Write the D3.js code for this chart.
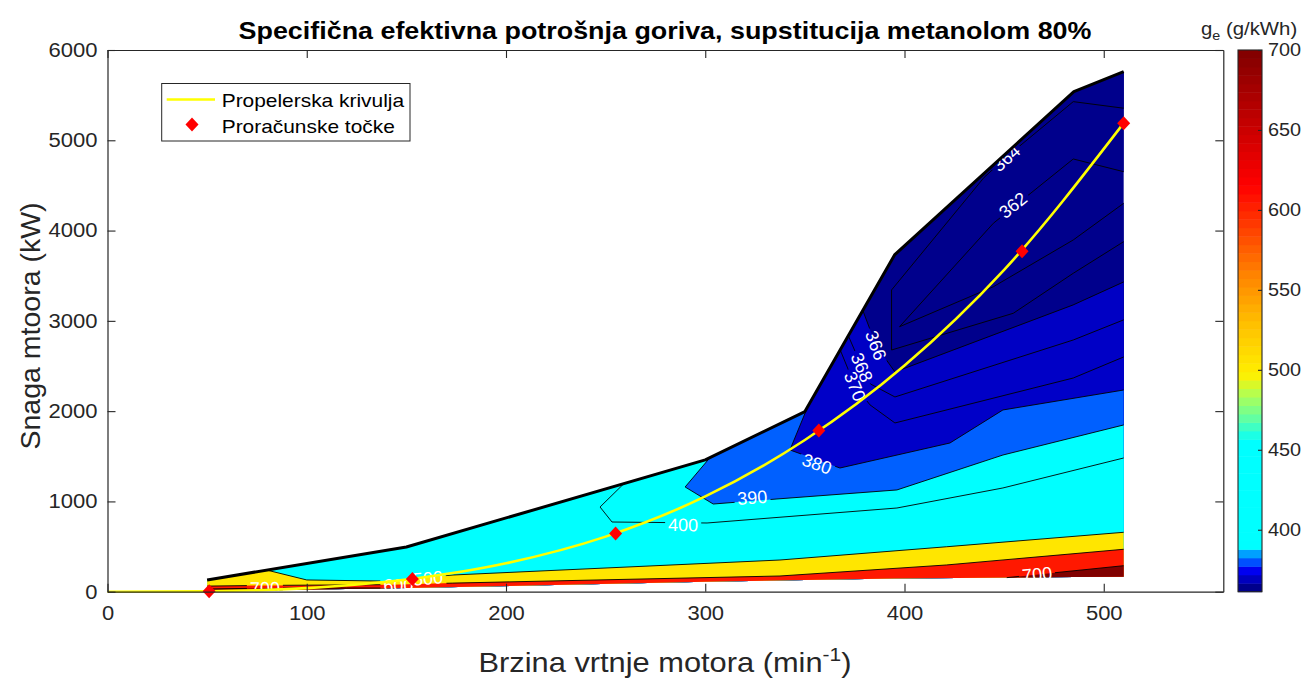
<!DOCTYPE html>
<html><head><meta charset="utf-8">
<script src="https://cdn.jsdelivr.net/npm/d3@7"></script>
<style>
body{margin:0;background:#fff}
text{font-family:"Liberation Sans",Arial,Helvetica,sans-serif}
</style>
</head><body>
<svg id="chart" width="1307" height="679"></svg>
<script>
// ---------------- data ----------------
const xTicks = [0,100,200,300,400,500];
const yTicks = [0,1000,2000,3000,4000,5000,6000];
const cbTicks = [400,450,500,550,600,650,700];

// engine envelope (speed min^-1, power kW)
const envN      = [50,150,300,350,395,485,510];
const envTop    = [130,495,1460,1995,3730,5540,5760];
const envBottom = [5,40,110,130,145,162,166];

// contour levels (g/kWh) and band fill colours (band below first level, then above each level)
const levels = [362,364,366,368,370,380,390,400,500,600,700];
const bandColors = ["#00008c","#00008c","#00008c","#0000c4","#0000c6","#0000c8",
                    "#0060ff","#00ffff","#00ffff","#ffe600","#ff1800","#800000"];

// contour lines [speed, power]; higher values lie to the right of travel direction
const line362 = [[509.8,4652],[484.7,4793],[444.6,4081],[397.5,2935],[444.6,3378],[484.7,3896],[509.8,4302]];
const line364 = [[509.8,5355],[484.7,5428],[452,4830],[440,4590],[393.5,3342],[393.5,2677],[454.6,3084],[484.7,3527],[509.8,3877]];
const line366 = [[379.6,3109],[385.7,2729],[395.2,2434],[484.6,3176],[509.8,3431]];
const line368 = [[371.2,2843],[378.7,2485],[383,2300],[395.2,2157],[484.7,2788],[509.8,3011]];
const line370 = [[367.6,2680],[375.2,2275],[382.7,2069],[395.2,1869],[484.7,2367],[509.8,2600]];
const line380 = [[351.5,2053],[342.5,1570],[367.6,1370],[422.8,1647],[449.4,2013],[509.8,2234]];
const line390 = [[302.4,1486],[289.9,1160],[304,971],[336,1027],[396.2,1127],[449.4,1514],[509.8,1847]];
const line400 = [[259.2,1197],[247.2,938],[253.2,772],[300.9,761],[396.2,927],[449.4,1149],[509.8,1481]];
const line500 = [[80,232],[100,130],[138.3,118],[173.4,185],[337.5,351],[421.2,498],[509.8,658]];
const line600 = [[50,62],[80,70],[142,78],[173,95],[337.5,174],[421,296],[509.8,470]];
const line700a = [[50,30],[80,40],[120,42],[150,44]];
const line700b = [[451.3,160],[509.8,288]];
const contourLines = [
  {level:362, pts:line362},{level:364, pts:line364},{level:366, pts:line366},
  {level:368, pts:line368},{level:370, pts:line370},{level:380, pts:line380},
  {level:390, pts:line390},{level:400, pts:line400},{level:500, pts:line500},
  {level:600, pts:line600},{level:700, pts:line700a},{level:700, pts:line700b}];

// inline contour labels
const labelLevels = [364,362,366,368,370,380,390,400,500,600,700,700];
const labelN      = [451,454.4,385.7,378.7,375.2,356.1,323.6,288.9,160.8,146,79,466.5];
const labelP      = [4804,4283,2729,2485,2275,1418,1045,743,151,74,41,196];

// propeller curve and calculation points
const propN = [0,50,100,150,200,250,300,350,400,450,510];
const propP = [0,5,40,135,315,610,1055,1680,2505,3565,5190];
const calcN = [51,153,255,357,459,510];
const calcP = [5,140,645,1785,3770,5190];

// colour bar colour stops (value, colour)
const cbStopV = [363.9,369.2,374.5,379.8,385.1,390.4,455,470,485,497,530,560,590,615,700];
const cbStopC = ["#00008c","#0000be","#0000f0","#0050ff","#00a0ff","#00ffff","#00ffff",
                 "#64ffa0","#b4ff50","#fff000","#ffbe00","#ff8200","#ff3c00","#ff0000","#800000"];

// ---------------- drawing ----------------
const svg = d3.select("#chart");
const W = 1307, H = 679;
const x = d3.scaleLinear().domain([0,560]).range([107.5,1223.3]);
const y = d3.scaleLinear().domain([0,6000]).range([591.7,50]);
const toPx = d => [x(d[0]), y(d[1])];
const axisCol = "#262626";
const SX = 1.1; // horizontal text stretch seen in the reference
function stretch(sel,k){
  sel.each(function(){
    const w=this.getComputedTextLength();
    d3.select(this).attr("textLength",(w*k).toFixed(1)).attr("lengthAdjust","spacingAndGlyphs");
  });
}

svg.append("rect").attr("width",W).attr("height",H).attr("fill","#fff");

// envelope polygon (clockwise on screen)
const topPts = envN.map((n,i)=>toPx([n,envTop[i]]));
const botPts = envN.map((n,i)=>toPx([n,envBottom[i]])).reverse();
const B = topPts.concat(botPts);
const NB = B.length;

function project(p){
  let best=null;
  for(let i=0;i<NB;i++){
    const a=B[i], b=B[(i+1)%NB];
    const dx=b[0]-a[0], dy=b[1]-a[1];
    const L2=dx*dx+dy*dy;
    let t=L2?((p[0]-a[0])*dx+(p[1]-a[1])*dy)/L2:0;
    t=Math.max(0,Math.min(1,t));
    const q=[a[0]+t*dx,a[1]+t*dy];
    const d=(q[0]-p[0])**2+(q[1]-p[1])**2;
    if(!best||d<best.d) best={i,t,p:q,d};
  }
  return best;
}
function cwPath(a,b){
  const pts=[];
  if(a.i===b.i && b.t>=a.t){pts.push(b.p);return pts;}
  let k=(a.i+1)%NB; pts.push(B[k]);
  while(k!==b.i){k=(k+1)%NB; pts.push(B[k]);}
  pts.push(b.p);
  return pts;
}
const pathOf = (pts,close)=>"M"+pts.map(p=>p[0].toFixed(2)+","+p[1].toFixed(2)).join("L")+(close?"Z":"");

const gFill = svg.append("g");
gFill.append("path").attr("d",pathOf(B,true)).attr("fill",bandColors[0]);

const linePx = contourLines.map(c=>{
  const px=c.pts.map(toPx);
  const s=project(px[0]), e=project(px[px.length-1]);
  px[0]=s.p; px[px.length-1]=e.p;
  return {level:c.level, px, poly:px.concat(cwPath(e,s))};
});
levels.forEach((L,li)=>{
  linePx.filter(c=>c.level===L).forEach(c=>{
    gFill.append("path").attr("d",pathOf(c.poly,true)).attr("fill",bandColors[li+1]);
  });
});

// contour lines with gaps under labels
const defs = svg.append("defs");
const mask = defs.append("mask").attr("id","gapMask").attr("maskUnits","userSpaceOnUse")
  .attr("x",0).attr("y",0).attr("width",W).attr("height",H);
mask.append("rect").attr("width",W).attr("height",H).attr("fill","#fff");

const gLines = svg.append("g").attr("mask","url(#gapMask)");
linePx.forEach(c=>{
  gLines.append("path").attr("d",pathOf(c.px,false)).attr("fill","none")
    .attr("stroke","#000").attr("stroke-width",0.9);
});

const gLab = svg.append("g");
labelLevels.forEach((L,i)=>{
  const p = toPx([labelN[i],labelP[i]]);
  let best=null;
  linePx.filter(c=>c.level===L).forEach(c=>{
    for(let k=0;k<c.px.length-1;k++){
      const a=c.px[k], b=c.px[k+1];
      const dx=b[0]-a[0], dy=b[1]-a[1], L2=dx*dx+dy*dy;
      let t=L2?((p[0]-a[0])*dx+(p[1]-a[1])*dy)/L2:0; t=Math.max(0,Math.min(1,t));
      const d=(a[0]+t*dx-p[0])**2+(a[1]+t*dy-p[1])**2;
      if(!best||d<best.d) best={d,ang:Math.atan2(dy,dx)*180/Math.PI};
    }
  });
  let ang = best?best.ang:0;
  if(ang>90) ang-=180; if(ang<=-90) ang+=180;
  const t = gLab.append("text").attr("transform",`translate(${p[0]},${p[1]}) rotate(${ang})`)
    .attr("text-anchor","middle").attr("dy","0.36em").attr("fill","#fff")
    .attr("font-size",18).text(L);
  const w = t.node().getComputedTextLength();
  mask.append("rect").attr("x",-w/2-3).attr("y",-8).attr("width",w+6).attr("height",16)
    .attr("transform",`translate(${p[0]},${p[1]}) rotate(${ang})`).attr("fill","#000");
});

// envelope top boundary
svg.append("path").attr("d",pathOf(topPts,false)).attr("fill","none")
  .attr("stroke","#000").attr("stroke-width",3).attr("stroke-linejoin","round");

// propeller curve
const propLine = d3.line().x(d=>x(d[0])).y(d=>y(d[1])).curve(d3.curveMonotoneX);
svg.append("path").attr("d",propLine(propN.map((n,i)=>[n,propP[i]]))).attr("fill","none")
  .attr("stroke","#ffff00").attr("stroke-width",2.6);
const diamond = "M0,-7L6.5,0L0,7L-6.5,0Z";
calcN.forEach((n,i)=>{
  svg.append("path").attr("d",diamond).attr("transform",`translate(${x(n)},${y(calcP[i])})`)
    .attr("fill","#ff0000");
});

// axes
function styleAxis(fs){
  return g=>{
    g.selectAll(".domain").attr("stroke",axisCol).attr("stroke-width",1.2);
    g.selectAll(".tick line").attr("stroke",axisCol).attr("stroke-width",1.1);
    g.selectAll("text").attr("fill",axisCol).attr("font-size",fs)
      .attr("font-family",'"Liberation Sans",Arial,sans-serif');
    stretch(g.selectAll("text"),SX);
  };
}
const fmt = d3.format("d");
svg.append("g").attr("transform",`translate(0,${y(0)})`)
  .call(d3.axisBottom(x).tickValues(xTicks).tickFormat(fmt).tickSizeInner(-8).tickSizeOuter(0).tickPadding(14))
  .call(styleAxis(20));
svg.append("g").attr("transform",`translate(0,${y(6000)})`)
  .call(d3.axisTop(x).tickValues(xTicks).tickSizeInner(-8).tickSizeOuter(0).tickFormat(""))
  .call(styleAxis(20));
svg.append("g").attr("transform",`translate(${x(0)},0)`)
  .call(d3.axisLeft(y).tickValues(yTicks).tickFormat(fmt).tickSizeInner(-8).tickSizeOuter(0).tickPadding(10))
  .call(styleAxis(20));
svg.append("g").attr("transform",`translate(${x(560)},0)`)
  .call(d3.axisRight(y).tickValues(yTicks).tickSizeInner(-8).tickSizeOuter(0).tickFormat(""))
  .call(styleAxis(20));

// titles
const title = svg.append("text").attr("x",665).attr("y",39).attr("text-anchor","middle")
  .attr("font-size",24).attr("font-weight","bold").attr("fill","#000")
  .text("Specifična efektivna potrošnja goriva, supstitucija metanolom 80%");
stretch(title,1.12);
const xl = svg.append("text").attr("x",665).attr("y",672).attr("text-anchor","middle")
  .attr("font-size",28).attr("fill",axisCol);
xl.append("tspan").text("Brzina vrtnje motora (min");
xl.append("tspan").attr("dy",-11).attr("font-size",19).text("-1");
xl.append("tspan").attr("dy",11).text(")");
stretch(xl,SX);
svg.append("text").attr("transform",`translate(40,326) rotate(-90)`)
  .attr("text-anchor","middle").attr("font-size",28.5).attr("fill",axisCol)
  .text("Snaga mtoora (kW)");

// legend
const lg = svg.append("g");
lg.append("rect").attr("x",161.7).attr("y",83.5).attr("width",248.3).attr("height",57.5)
  .attr("fill","#fff").attr("stroke",axisCol).attr("stroke-width",1);
lg.append("line").attr("x1",166.7).attr("x2",215).attr("y1",99.5).attr("y2",99.5)
  .attr("stroke","#ffff00").attr("stroke-width",2.6);
lg.append("path").attr("d",diamond).attr("transform","translate(192,124.5)").attr("fill","#ff0000");
const lt1 = lg.append("text").attr("x",221.7).attr("y",106.5).attr("font-size",19).attr("fill","#000").text("Propelerska krivulja");
const lt2 = lg.append("text").attr("x",221.7).attr("y",132.5).attr("font-size",19).attr("fill","#000").text("Proračunske točke");
stretch(lt1,SX); stretch(lt2,SX);

// colour bar
const cbX = 1238, cbW = 24;
const cScale = d3.scaleLinear().domain(cbStopV).range(cbStopC).clamp(true);
const cy = d3.scaleLinear().domain([361.25,700]).range([591.7,50]);
const nBlk = 64, step = (700-361.25)/nBlk;
const blocks = d3.range(nBlk).map(i=>361.25+i*step);
svg.append("g").selectAll("rect").data(blocks).join("rect")
  .attr("x",cbX).attr("width",cbW)
  .attr("y",v=>cy(v+step)).attr("height",v=>cy(v)-cy(v+step)+0.5)
  .attr("fill",v=>cScale(v+step/2));
svg.append("rect").attr("x",cbX).attr("y",50).attr("width",cbW).attr("height",541.7)
  .attr("fill","none").attr("stroke",axisCol).attr("stroke-width",1.1);
const cbAx = svg.append("g").attr("transform",`translate(${cbX+cbW},0)`)
  .call(d3.axisRight(cy).tickValues(cbTicks).tickSizeInner(-4).tickSizeOuter(0).tickPadding(6))
  .call(styleAxis(18));
cbAx.select(".domain").remove();
const cbl = svg.append("text").attr("x",1201).attr("y",35).attr("font-size",18.5).attr("fill",axisCol);
cbl.append("tspan").text("g");
cbl.append("tspan").attr("dy",5).attr("font-size",13).text("e");
cbl.append("tspan").attr("dy",-5).text(" (g/kWh)");
stretch(cbl,SX);
</script>
</body></html>
